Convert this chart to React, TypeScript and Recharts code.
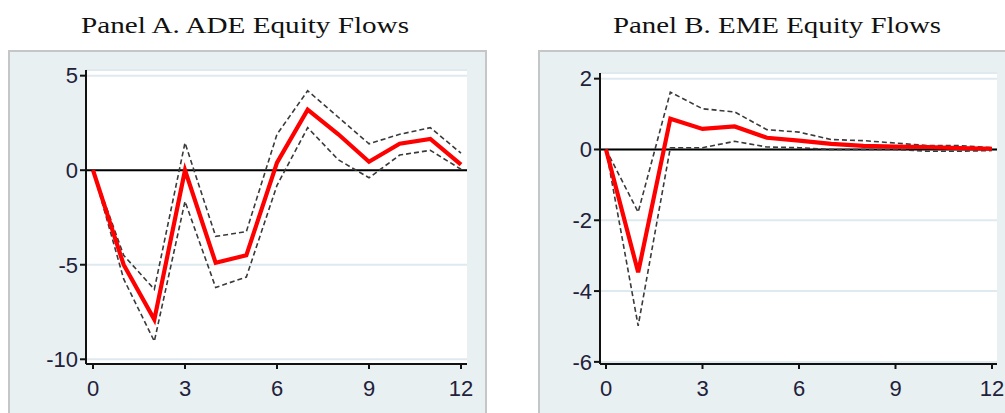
import React from 'react'
import { CartesianGrid, Line, LineChart, ReferenceLine, XAxis, YAxis } from 'recharts'

const horizon = [0, 1, 2, 3, 4, 5, 6, 7, 8, 9, 10, 11, 12]

// Panel A: ADE equity flows
const adeIrf = [0, -5.0, -7.9, 0.0, -4.9, -4.5, 0.4, 3.2, 1.9, 0.45, 1.4, 1.65, 0.3]
const adeUpper = [0, -4.5, -6.3, 1.45, -3.5, -3.25, 1.9, 4.2, 2.8, 1.4, 1.9, 2.25, 0.9]
const adeLower = [0, -5.75, -9.05, -1.65, -6.2, -5.65, -0.8, 2.25, 0.55, -0.4, 0.8, 1.05, 0.05]

// Panel B: EME equity flows
const emeIrf = [0, -3.47, 0.87, 0.58, 0.65, 0.33, 0.25, 0.16, 0.1, 0.08, 0.07, 0.04, 0.02]
const emeUpper = [0, -1.77, 1.62, 1.15, 1.06, 0.56, 0.49, 0.28, 0.25, 0.18, 0.11, 0.11, 0.05]
const emeLower = [0, -4.98, 0.05, 0.05, 0.23, 0.07, 0.05, 0.0, 0.0, 0.0, -0.05, -0.05, -0.03]

const xTicks = [0, 3, 6, 9, 12]
const adeTicks = [-10, -5, 0, 5]
const emeTicks = [-6, -4, -2, 0, 2]

const toRows = (irf: number[], upper: number[], lower: number[]) =>
    horizon.map((t, i) => ({ t, irf: irf[i], upper: upper[i], lower: lower[i] }))

const tickStyle = { fill: '#22203a', fontSize: 22, fontFamily: 'Liberation Sans, Arial, sans-serif' }

interface PanelProps {
    title: string
    rows: { t: number; irf: number; upper: number; lower: number }[]
    yTicks: number[]
    yDomain: [number, number]
    left: number
    boxLeft: number
    boxWidth: number
    margin: { top: number; right: number; bottom: number; left: number }
    padX: { left: number; right: number }
    titleX: number
}

const Panel: React.FC<PanelProps> = ({ title, rows, yTicks, yDomain, left, boxLeft, boxWidth, margin, padX, titleX }) => (
    <>
        <svg style={{ position: 'absolute', left: titleX - 200, top: 0 }} width={400} height={45}>
            <text
                x={200}
                y={33}
                textAnchor="middle"
                textLength={328}
                lengthAdjust="spacingAndGlyphs"
                fontFamily='"Liberation Serif", "DejaVu Serif", serif'
                fontSize={24}
                fill="#111"
            >
                {title}
            </text>
        </svg>
        <div
            style={{
                position: 'absolute',
                left: boxLeft,
                top: 50,
                width: boxWidth,
                height: 380,
                background: '#e8f0f1',
                border: '2px solid #c4c6c8',
                boxSizing: 'border-box',
            }}
        />
        <div style={{ position: 'absolute', left, top: 0 }}>
            <LineChart width={490} height={413} data={rows} margin={margin}>
                <CartesianGrid
                    vertical={false}
                    stroke="#dfeaf0"
                    strokeWidth={2}
                    fill="#ffffff"
                    fillOpacity={1}
                />
                <XAxis
                    dataKey="t"
                    type="number"
                    domain={[0, 12]}
                    ticks={xTicks}
                    padding={padX}
                    stroke="#111"
                    strokeWidth={2}
                    tickSize={5}
                    tickMargin={11}
                    height={30}
                    tick={tickStyle}
                />
                <YAxis
                    type="number"
                    domain={yDomain}
                    ticks={yTicks}
                    allowDataOverflow
                    stroke="#111"
                    strokeWidth={2}
                    tickSize={6}
                    tickMargin={2}
                    width={60}
                    tick={tickStyle}
                />
                <ReferenceLine y={0} stroke="#000" strokeWidth={2} />
                <Line
                    dataKey="upper"
                    stroke="#3a3a3a"
                    strokeWidth={1.6}
                    strokeDasharray="5 3"
                    dot={false}
                    isAnimationActive={false}
                />
                <Line
                    dataKey="lower"
                    stroke="#3a3a3a"
                    strokeWidth={1.6}
                    strokeDasharray="5 3"
                    dot={false}
                    isAnimationActive={false}
                />
                <Line dataKey="irf" stroke="#ff0000" strokeWidth={4.2} dot={false} isAnimationActive={false} />
            </LineChart>
        </div>
    </>
)

export default function App() {
    return (
        <div style={{ position: 'absolute', left: 0, top: 0, width: 1005, height: 413, overflow: 'hidden', background: '#fff' }}>
            <Panel
                title="Panel A. ADE Equity Flows"
                rows={toRows(adeIrf, adeUpper, adeLower)}
                yTicks={adeTicks}
                yDomain={[-10.25, 5.3]}
                left={0}
                boxLeft={8}
                boxWidth={479}
                margin={{ top: 70, right: 23, bottom: 19, left: 26 }}
                padX={{ left: 7, right: 6 }}
                titleX={245}
            />
            <Panel
                title="Panel B. EME Equity Flows"
                rows={toRows(emeIrf, emeUpper, emeLower)}
                yTicks={emeTicks}
                yDomain={[-6.06, 2.16]}
                left={515}
                boxLeft={538}
                boxWidth={480}
                margin={{ top: 73, right: 8, bottom: 19, left: 25 }}
                padX={{ left: 6, right: 5 }}
                titleX={777}
            />
        </div>
    )
}
